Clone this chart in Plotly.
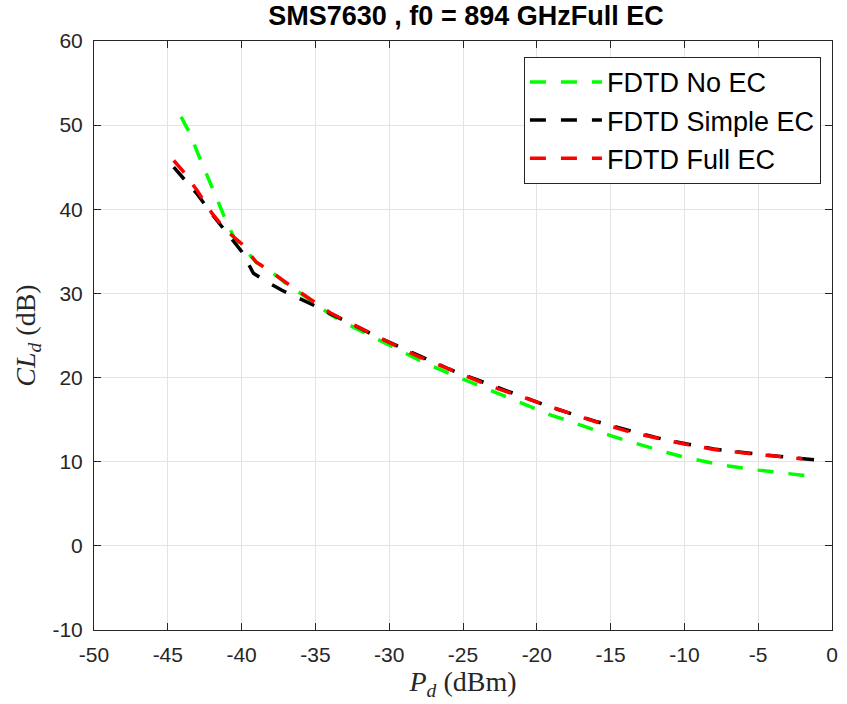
import plotly.graph_objects as go

# ---- data ----
no_ec_x = [-44.1, -43.5, -43, -42.5, -42, -41.5, -41, -40.5, -40, -39, -38, -37, -36, -35, -34, -33, -32, -31,
           -30, -29, -28, -27, -26, -25, -24, -23, -22, -21, -20, -19, -18, -17, -16, -15, -14, -13, -12, -11,
           -10, -9, -8, -7, -6, -5, -4, -3, -1.8]
no_ec_y = [51.0, 49.0, 46.8, 44.7, 42.6, 40.5, 38.4, 36.6, 35.6, 33.7, 32.6, 31.2, 30.0, 28.7, 27.5, 26.5, 25.6, 24.7,
           23.8, 22.9, 22.1, 21.3, 20.5, 19.8, 19.1, 18.4, 17.7, 17.0, 16.3, 15.5, 14.95, 14.3, 13.7, 13.1, 12.55, 12.0, 11.5, 11.0,
           10.55, 10.15, 9.8, 9.5, 9.2, 9.0, 8.8, 8.6, 8.35]

simple_ec_x = [-44.6, -44, -43, -42, -41, -40.4, -40, -39.2, -38.4, -37.3, -36.4, -35, -34, -33, -32, -31,
               -30, -29, -28, -27, -26, -25, -24, -23, -22, -21, -20, -19, -18, -17, -16, -15, -14, -13, -12, -11,
               -10, -9, -8, -7, -6, -5, -4, -3, -2, -1, -0.4]
simple_ec_y = [45.0, 43.8, 41.8, 39.4, 37.2, 35.8, 35.0, 32.4, 31.5, 30.4, 29.7, 28.5, 27.6, 26.8, 25.9, 25.0,
               24.2, 23.35, 22.55, 21.8, 21.05, 20.35, 19.7, 19.0, 18.4, 17.7, 17.05, 16.45, 15.9, 15.3, 14.8, 14.3, 13.8, 13.35, 12.9, 12.5,
               12.15, 11.85, 11.5, 11.3, 11.05, 10.9, 10.7, 10.55, 10.4, 10.25, 10.1]

full_ec_x = [-44.6, -44, -43, -42, -41, -40, -39, -38, -37, -36, -35, -34, -33, -32, -31,
             -30, -29, -28, -27, -26, -25, -24, -23, -22, -21, -20, -19, -18, -17, -16, -15, -14, -13, -12, -11,
             -10, -9, -8, -7, -6, -5, -4, -3, -2]
full_ec_y = [45.8, 44.6, 42.2, 39.5, 37.4, 35.9, 33.7, 32.6, 31.3, 30.1, 28.9, 27.7, 26.8, 25.9, 25.0,
             24.2, 23.3, 22.5, 21.75, 21.0, 20.25, 19.6, 18.9, 18.3, 17.6, 17.0, 16.4, 15.85, 15.3, 14.75, 14.2, 13.7, 13.25, 12.85, 12.45,
             12.1, 11.8, 11.45, 11.25, 11.0, 10.85, 10.7, 10.5, 10.35]

series_names = ["FDTD No EC", "FDTD Simple EC", "FDTD Full EC"]
series_colors = ["#00ff00", "#000000", "#ff0000"]

x_ticks = [-50, -45, -40, -35, -30, -25, -20, -15, -10, -5, 0]
y_ticks = [-10, 0, 10, 20, 30, 40, 50, 60]

title_text = "SMS7630 , f0 = 894 GHzFull EC"

fig = go.Figure()
for i, (xs, ys) in enumerate([(no_ec_x, no_ec_y), (simple_ec_x, simple_ec_y), (full_ec_x, full_ec_y)]):
    fig.add_trace(go.Scatter(
        x=xs, y=ys, mode="lines", name=series_names[i],
        line=dict(color=series_colors[i], width=3.5, dash="16px,15px"),
    ))

axis_color = "#262626"
grid_color = "#e3e3e3"
sans = "Liberation Sans, Arial, sans-serif"
serif = "Liberation Serif, DejaVu Serif, serif"
tick_font = dict(family=sans, size=21, color=axis_color)

fig.update_layout(
    width=847, height=704,
    margin=dict(l=94, r=9, t=41, b=74),
    plot_bgcolor="white", paper_bgcolor="white",
    title=dict(text="<b>" + title_text + "</b>", x=(94 + 838) / 2 / 847, xanchor="center",
               y=1 - 16 / 704, yanchor="middle", yref="container",
               font=dict(family=sans, size=27, color="#000000")),
    showlegend=True,
    legend=dict(x=0.985, y=0.973, xanchor="right", yanchor="top",
                bgcolor="white", bordercolor="#262626", borderwidth=1,
                font=dict(family=sans, size=27, color="#000000"),
                itemwidth=72, tracegroupgap=0),
)

fig.update_xaxes(
    range=[-50, 0], tickvals=x_ticks, ticktext=[str(v) for v in x_ticks],
    showgrid=True, gridcolor=grid_color, gridwidth=1,
    showline=True, linecolor=axis_color, linewidth=1, mirror="ticks",
    ticks="inside", ticklen=7, tickcolor=axis_color, tickfont=tick_font,
    ticklabelstandoff=6, zeroline=False,
    title=dict(text="<i>P</i><sub><i>d</i></sub> (dBm)", standoff=4,
               font=dict(family=serif, size=28, color=axis_color)),
)
fig.update_yaxes(
    range=[-10, 60], tickvals=y_ticks, ticktext=[str(v) for v in y_ticks],
    showgrid=True, gridcolor=grid_color, gridwidth=1,
    showline=True, linecolor=axis_color, linewidth=1, mirror="ticks",
    ticks="inside", ticklen=7, tickcolor=axis_color, tickfont=tick_font,
    ticklabelstandoff=6, zeroline=False,
    title=dict(text="<i>CL</i><sub><i>d</i></sub> (dB)", standoff=8,
               font=dict(family=serif, size=28, color=axis_color)),
)

fig.write_html("out.html")
